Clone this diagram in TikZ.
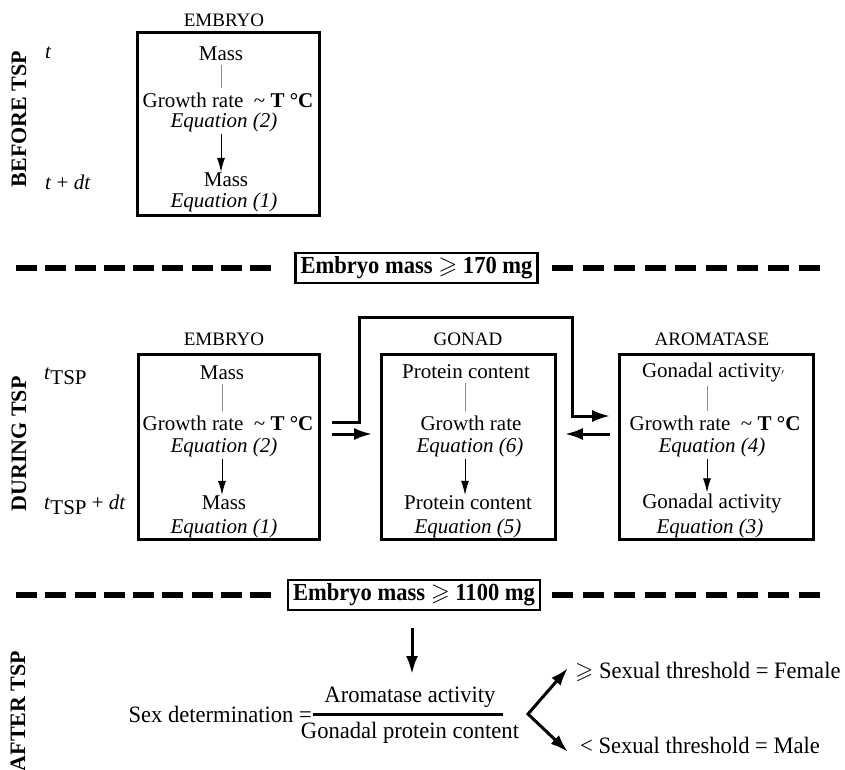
\documentclass[tikz,border=0pt]{standalone}
\usepackage{fontspec}
\usepackage{amssymb}
\setmainfont{Liberation Serif}
\newfontfamily\condserif[FakeStretch=0.92]{Liberation Serif}
\newfontfamily\botserif[FakeStretch=0.96]{Liberation Serif}
\usetikzlibrary{arrows.meta}
\begin{document}
\begin{tikzpicture}[x=1pt,y=-1pt,
  boxst/.style={draw, line width=2.6pt, inner sep=0pt},
  txt/.style={font=\fontsize{21}{24}\selectfont, inner sep=1pt},
  eq/.style={font=\fontsize{21}{24}\selectfont\itshape, inner sep=1pt},
  lab/.style={font=\fontsize{19}{22}\selectfont, inner sep=1pt},
  sec/.style={font=\fontsize{22}{26}\selectfont\bfseries, rotate=90, inner sep=0pt},
  bot/.style={font=\botserif\fontsize{23.5}{27}\selectfont, inner sep=1pt},
  thinline/.style={draw=black!45, line width=0.7pt, shorten <=3pt, shorten >=3pt},
  thinarrow/.style={line width=0.8pt, -{Latex[length=14pt,width=8pt]}, shorten <=1pt},
  bigarrow/.style={line width=3pt, -{Latex[length=18pt,width=12pt]}},
  dashL/.style={line width=6pt, dash pattern=on 21pt off 8.25pt},
  dashR/.style={line width=6pt, dash pattern=on 21pt off 9.9pt},
  massbox/.style={draw, line width=2.6pt, font=\condserif\fontsize{24.5}{28}\selectfont\bfseries,
    inner xsep=5pt, inner ysep=2pt, minimum height=30pt}
]
\useasboundingbox (0,0) rectangle (845,770);

% ---------------- section labels
\node[sec] (secb) at (19,119) {BEFORE TSP};
\node[sec] (secd) at (19,444) {DURING TSP};
\node[sec] (seca) at (18,711) {AFTER TSP};

% ---------------- BEFORE TSP
\node[txt, anchor=west] (t1) at (44,53) {\textit{t}};
\node[txt, anchor=west] (tdt1) at (44,182) {\textit{t} + \textit{dt}};

\node[lab] (embl1) at (224,20) {EMBRYO};
\node[boxst, minimum width=182pt, minimum height=183pt] (emb1) at (228.5,124) {};
\node[txt] (ma1) at (221,54) {Mass};
\node[txt] (gr1) at (228,100) {Growth rate\ \ \textasciitilde\ \textbf{T °C}};
\node[eq] (eqa1) at (224,122) {Equation (2)};
\node[txt] (mb1) at (226,180) {Mass};
\node[eq] (eqb1) at (224,202) {Equation (1)};
\draw[thinline] (ma1.south) -- (ma1.south |- gr1.north);
\draw[thinarrow] (ma1.south |- eqa1.south) -- (ma1.south |- mb1.north);

% ---------------- first threshold
\node[massbox] (thr1) at (416.5,268) {Embryo mass $\geqslant$ 170 mg};
\coordinate (d1l) at (16,268);
\coordinate (d1r) at (820,268);
\draw[dashL] (d1l) -- ++(255,0);
\draw[dashR] (d1r) -- ++(-268,0);

% ---------------- DURING TSP
\node[txt, anchor=west] (t2) at (43,376) {\textit{t}\raisebox{-5pt}{TSP}};
\node[txt, anchor=west] (tdt2) at (43,505) {\textit{t}\raisebox{-5pt}{TSP} + \textit{dt}};

% embryo
\node[lab] (embl2) at (224,339) {EMBRYO};
\node[boxst, minimum width=181pt, minimum height=185pt] (emb2) at (229,447) {};
\node[txt] (ma2) at (222,373) {Mass};
\node[txt] (gr2) at (228,423) {Growth rate\ \ \textasciitilde\ \textbf{T °C}};
\node[eq] (eqa2) at (224,447) {Equation (2)};
\node[txt] (mb2) at (224,503) {Mass};
\node[eq] (eqb2) at (224,528) {Equation (1)};
\draw[thinline] (ma2.south) -- (ma2.south |- gr2.north);
\draw[thinarrow] (ma2.south |- eqa2.south) -- (ma2.south |- mb2.north);

% gonad
\node[lab] (gonl) at (468,339) {GONAD};
\node[boxst, minimum width=174pt, minimum height=185pt] (gon) at (468.5,447) {};
\node[txt] (pc1) at (466,372) {Protein content};
\node[txt] (gr3) at (471,423) {Growth rate};
\node[eq] (eqa3) at (470,447) {Equation (6)};
\node[txt] (pc2) at (468,503) {Protein content};
\node[eq] (eqb3) at (468,528) {Equation (5)};
\draw[thinline] (465,0 |- pc1.south) -- (465,0 |- gr3.north);
\draw[thinarrow] (465,0 |- eqa3.south) -- (465,0 |- pc2.north);

% aromatase
\node[lab] (arol) at (712,339) {AROMATASE};
\node[boxst, minimum width=194pt, minimum height=185pt] (aro) at (716.5,447) {};
\node[txt] (ga1) at (713,372) {Gonadal activity\raisebox{2pt}{\fontsize{9}{9}\selectfont$\prime$}};
\node[txt] (gr4) at (715,423) {Growth rate\ \ \textasciitilde\ \textbf{T °C}};
\node[eq] (eqa4) at (712,447) {Equation (4)};
\node[txt] (ga2) at (712,503) {Gonadal activity};
\node[eq] (eqb4) at (710,528) {Equation (3)};
\draw[thinline] (707,0 |- ga1.south) -- (707,0 |- gr4.north);
\draw[thinarrow] (707,0 |- eqa4.south) -- (707,0 |- ga2.north);

% connectors between boxes
\draw[bigarrow, line join=miter]
  ([xshift=11pt,yshift=25pt]emb2.east) -- ++(28,0) -- ++(0,-105) -- ++(213,0) -- ++(0,99)
  -- ([xshift=-8pt,yshift=31pt]aro.west);
\draw[bigarrow] ([xshift=11pt,yshift=13pt]emb2.east) -- ([xshift=-8pt,yshift=13pt]gon.west);
\draw[bigarrow] ([xshift=-8pt,yshift=13pt]aro.west) -- ([xshift=8pt,yshift=13pt]gon.east);

% ---------------- second threshold
\node[massbox] (thr2) at (414,595) {Embryo mass $\geqslant$ 1100 mg};
\coordinate (d2l) at (16,595);
\coordinate (d2r) at (820,595);
\draw[dashL] (d2l) -- ++(255,0);
\draw[dashR] (d2r) -- ++(-268,0);

% ---------------- AFTER TSP
\node[bot, anchor=east] (sexdet) at (313,714) {Sex determination =};
\node[bot] (num) at (410,697) {Aromatase activity};
\node[bot] (den) at (410,733) {Gonadal protein content};
\coordinate (fl) at (313,714);
\coordinate (fr) at (503,714);
\draw[line width=3pt] (fl) -- (fr);

\coordinate (arrtip) at (412,674);
\draw[bigarrow, shorten <=17pt] (thr2.south -| arrtip) -- (arrtip);

\coordinate (v) at (528,714);
\coordinate (ftip) at (568,668);
\coordinate (mtip) at (568,752);
\draw[line width=3pt, line join=miter, {Latex[length=18pt,width=12pt]}-{Latex[length=18pt,width=12pt]}]
  (ftip) -- (v) -- (mtip);
\node[bot, anchor=west] (fem) at (574,672) {$\geqslant$ Sexual threshold = Female};
\node[bot, anchor=west] (male) at (579,745) {< Sexual threshold = Male};
\end{tikzpicture}
\end{document}
